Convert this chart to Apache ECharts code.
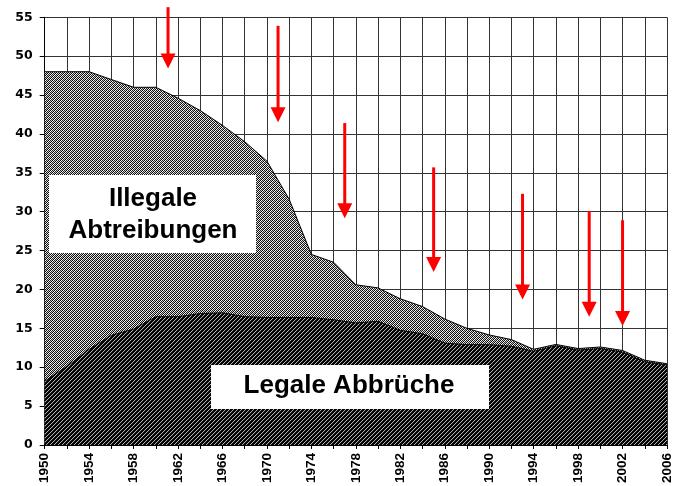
<!DOCTYPE html>
<html><head><meta charset="utf-8">
<script src="https://cdn.jsdelivr.net/npm/echarts@6/dist/echarts.min.js"></script>
<style>html,body{margin:0;padding:0;background:#fff}#c{width:674px;height:486px}</style>
</head><body><div id="c"></div>
<script>
const years = [1950,1952,1954,1956,1958,1960,1962,1964,1966,1968,1970,1972,1974,1976,1978,1980,1982,1984,1986,1988,1990,1992,1994,1996,1998,2000,2002,2004,2006];
const legal = [8.2,10.1,12.3,14.1,14.9,16.5,16.5,16.9,17.0,16.5,16.4,16.4,16.4,16.1,15.7,15.9,14.75,14.3,13.1,12.9,12.9,12.7,12.05,12.75,12.2,12.4,11.95,10.7,10.3];
const total = [48,48,48,47,46,46,44.6,43.0,41.1,39.0,36.5,31.6,24.5,23.5,20.6,20.2,18.8,17.8,16.2,15.0,14.15,13.55,12.3,12.93,12.4,12.6,12.15,10.9,10.45];
const xTickLabels = ['1950','1954','1958','1962','1966','1970','1974','1978','1982','1986','1990','1994','1998','2002','2006'];
const arrowYears = [1961.1,1971,1977,1985,1993,1999,2002];
const arrowTops  = [56.3,53.9,41.4,35.7,32.3,30.1,28.9];
const arrowTips  = [48.4,41.5,29.15,22.25,18.7,16.5,15.3];
const labelIllegal = 'Illegale\nAbtreibungen';
const labelLegal = 'Legale Abbrüche';

function makePattern(colors){
  const c=document.createElement('canvas'); c.width=4; c.height=4;
  const ctx=c.getContext('2d');
  for(let y=0;y<4;y++)for(let x=0;x<4;x++){ctx.fillStyle=colors[(x+y)%4];ctx.fillRect(x,y,1,1);}
  return c;
}
const lightPat = makePattern(['#000000','#ffffff','#202020','#c4c4c4']);
const darkPat  = makePattern(['#000000','#000000','#b4b4b4','#101010']);

const chart = echarts.init(document.getElementById('c'), null, {renderer:'canvas'});
const gridColor = '#333333';
const option = {
  animation:false,
  backgroundColor:'#fff',
  grid:{left:44.7, right:2.3, top:17.3, bottom:35.7, containLabel:false},
  xAxis:{type:'value', min:1950, max:2006, interval:2,
    axisLine:{show:true, onZero:false, lineStyle:{color:'#000', width:1}},
    axisTick:{show:true, length:4, lineStyle:{color:'#000'}},
    splitLine:{show:true, lineStyle:{color:gridColor, width:1}},
    axisLabel:{rotate:90, margin:8, color:'#000', fontWeight:'bold', fontSize:13.5,
      fontFamily:'"Liberation Sans Narrow","Liberation Sans",Arial,sans-serif',
      formatter:v=>xTickLabels.indexOf(String(v))>=0?String(v):''}
  },
  yAxis:{type:'value', min:0, max:55, interval:5,
    axisLine:{show:true, lineStyle:{color:'#000', width:1}},
    axisTick:{show:true, length:5, lineStyle:{color:'#000'}},
    splitLine:{show:true, lineStyle:{color:gridColor, width:1}},
    axisLabel:{margin:12, color:'#000', fontWeight:'bold', fontSize:12.5, fontFamily:'"DejaVu Sans",sans-serif'}
  },
  series:[
    {name:'Gesamt', type:'line', symbol:'none', silent:true, z:2,
     data:years.map((y,i)=>[y,total[i]]),
     lineStyle:{color:'#000', width:1},
     areaStyle:{color:{image:lightPat, repeat:'repeat'}, opacity:1, origin:'start'}},
    {name:'Legale Abbrüche', type:'line', symbol:'none', silent:true, z:3,
     data:years.map((y,i)=>[y,legal[i]]),
     lineStyle:{color:'#000', width:1},
     areaStyle:{color:{image:darkPat, repeat:'repeat'}, opacity:1, origin:'start'}},
    {type:'custom', coordinateSystem:'cartesian2d', clip:false, z:10, silent:true,
     data:arrowYears.map((x,i)=>[x,arrowTops[i],arrowTips[i]]),
     encode:{x:0, y:[1,2]},
     renderItem:(params, api)=>{
       const top=api.coord([api.value(0), api.value(1)]);
       const tip=api.coord([api.value(0), api.value(2)]);
       const hl=15, hw=7.5;
       return {type:'group', children:[
         {type:'line', shape:{x1:top[0],y1:top[1],x2:tip[0],y2:tip[1]-hl+1}, style:{stroke:'#ff0000', lineWidth:3}},
         {type:'polygon', shape:{points:[[tip[0]-hw,tip[1]-hl],[tip[0]+hw,tip[1]-hl],[tip[0],tip[1]]]}, style:{fill:'#ff0000'}}
       ]};
     }}
  ],
  graphic:[
    {type:'rect', z:100, shape:{x:49, y:175, width:207, height:78}, style:{fill:'#ffffff'}},
    {type:'text', z:101, x:153, y:215, style:{text:labelIllegal, font:'bold 26px "Liberation Sans", Arial, sans-serif',
      textAlign:'center', textVerticalAlign:'middle', align:'center', verticalAlign:'middle', lineHeight:32, fill:'#000'}},
    {type:'rect', z:100, shape:{x:211, y:365, width:278, height:44}, style:{fill:'#ffffff'}},
    {type:'text', z:101, x:349, y:386, style:{text:labelLegal, font:'bold 26px "Liberation Sans", Arial, sans-serif',
      textAlign:'center', textVerticalAlign:'middle', align:'center', verticalAlign:'middle', fill:'#000'}}
  ]
};
chart.setOption(option);
</script></body></html>
